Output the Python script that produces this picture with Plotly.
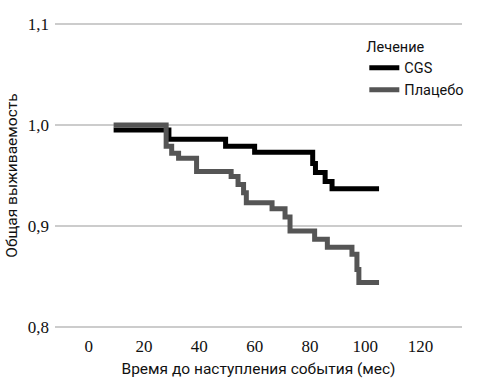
import plotly.graph_objects as go

# Kaplan-Meier step data (time in months, survival)
cgs_time = [9, 29, 49.5, 60, 81, 82, 85.5, 88, 105]
cgs_surv = [0.995, 0.986, 0.979, 0.973, 0.962, 0.953, 0.944, 0.937, 0.937]

placebo_time = [9, 28, 30, 32.5, 39, 51.5, 54, 56, 57, 66.3, 71, 72.8, 81.7, 86.3, 95.2, 97, 97.7, 105]
placebo_surv = [1.0, 0.979, 0.972, 0.967, 0.954, 0.949, 0.941, 0.933, 0.923, 0.917, 0.909, 0.895, 0.887, 0.879, 0.872, 0.857, 0.844, 0.844]

x_ticks = [0, 20, 40, 60, 80, 100, 120]
y_ticks = [0.8, 0.9, 1.0, 1.1]
y_ticktext = ["0,8", "0,9", "1,0", "1,1"]

tick_font = dict(family="Liberation Sans Narrow", size=17, color="#111111")
title_font = dict(family="Roboto", size=15.5, color="#111111")
legend_font = dict(family="Roboto", size=14.5, color="#111111")

fig = go.Figure()
fig.add_trace(go.Scatter(x=cgs_time, y=cgs_surv, mode="lines", name="CGS",
                         line=dict(color="#000000", width=5, shape="hv")))
fig.add_trace(go.Scatter(x=placebo_time, y=placebo_surv, mode="lines", name="Плацебо",
                         line=dict(color="#555555", width=5, shape="hv")))

fig.update_layout(
    width=478, height=386,
    margin=dict(l=55, r=9, t=23, b=58),
    plot_bgcolor="white", paper_bgcolor="white",
    font=dict(family="Roboto", size=15, color="#111111"),
    xaxis=dict(range=[-12.2, 135.0], tickvals=x_ticks, showgrid=False, zeroline=False,
               showline=False, ticks="outside", ticklen=3, tickcolor="rgba(0,0,0,0)",
               tickfont=tick_font, automargin=False,
               title=dict(text="Время до наступления события (мес)", standoff=7,
                          font=title_font)),
    yaxis=dict(range=[0.799, 1.101], tickvals=y_ticks, ticktext=y_ticktext,
               showgrid=True, gridcolor="#cccccc", gridwidth=1.5, zeroline=False,
               showline=False, ticks="", tickfont=tick_font, automargin=False,
               ticklabelstandoff=5,
               title=dict(text="Общая выживаемость", standoff=6, font=title_font)),
    legend=dict(x=0.76, y=0.967, xanchor="left", yanchor="top",
                bgcolor="rgba(0,0,0,0)", title=dict(text="Лечение", font=legend_font),
                font=legend_font, itemwidth=30, tracegroupgap=0),
    showlegend=True,
)

fig.write_html(
    "out.html",
    config={"displayModeBar": False},
    post_script="document.body.style.margin='0';document.body.style.overflow='hidden';",
)
